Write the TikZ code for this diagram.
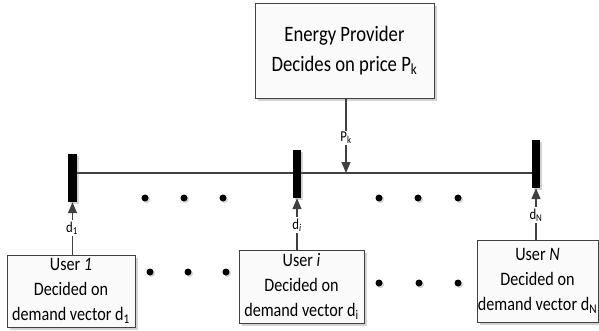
\documentclass[tikz,border=0pt]{standalone}
\usepackage{fontspec}
\setmainfont[FakeStretch=0.85]{Carlito}
\usetikzlibrary{arrows.meta,shadows}
\definecolor{ln}{HTML}{404040}
\begin{document}
\begin{tikzpicture}[x=1pt,y=1pt,
  box/.style={draw=ln,line width=0.9pt,fill=gray!4,align=center,inner sep=0pt,
    drop shadow={shadow xshift=3pt,shadow yshift=-3pt,fill=gray,opacity=0.35}},
  bar/.style={draw=none,fill=black,inner sep=0pt,
    drop shadow={shadow xshift=2pt,shadow yshift=-2pt,fill=gray,opacity=0.35}},
  dotnode/.style={circle,fill=black,inner sep=0pt,minimum width=6pt,minimum height=7pt,
    drop shadow={shadow xshift=1.5pt,shadow yshift=-1.5pt,fill=gray,opacity=0.35}},
  conn/.style={draw=ln,line width=1.2pt},
  arr/.style={conn,-{Triangle[width=9pt,length=11pt]}},
  lab/.style={fill=white,inner sep=1.5pt,font=\fontsize{15}{17}\selectfont}
]
\useasboundingbox (0,0) rectangle (599,330);
% provider
\node[box,minimum width=179pt,minimum height=95pt,font=\fontsize{22}{30}\selectfont] (prov) at (344.5,279.5)
  {Energy Provider\\Decides on price P\textsubscript{k}};
% bus
\coordinate (busL) at (72,157);
\coordinate (busR) at (536,157);
\draw[conn] (busL) -- (busR);
\node[bar,minimum width=9pt,minimum height=48pt] (b1) at (72.5,152) {};
\node[bar,minimum width=8pt,minimum height=48pt] (bi) at (297,156) {};
\node[bar,minimum width=8pt,minimum height=48pt] (bN) at (536,166) {};
% provider to bus
\coordinate (pk) at (346,157);
\draw[arr] (prov.south -| pk) -- (pk);
\node[lab] (pklab) at (346,192) {P\textsubscript{k}};
% dots row 1
\foreach \x [count=\n] in {145,184,223,379,418,458}
  \node[dotnode] (da\n) at (\x,132) {};
% dots row 2
\foreach \x [count=\n] in {150,188,226}
  \node[dotnode] (db\n) at (\x,58) {};
\foreach \x [count=\n] in {379,419,458}
  \node[dotnode] (dc\n) at (\x,47) {};
% users
\node[box,minimum width=128pt,minimum height=72pt,font=\fontsize{19}{25}\selectfont] (u1) at (71,39)
  {User \textit{1}\\Decided on\\demand vector d\textsubscript{1}};
\node[box,minimum width=125pt,minimum height=73pt,font=\fontsize{19}{25}\selectfont] (ui) at (301.5,43.5)
  {User \textit{i}\\Decided on\\demand vector d\textsubscript{i}};
\node[box,minimum width=121pt,minimum height=82pt,font=\fontsize{19}{25}\selectfont] (uN) at (537.5,49)
  {User \textit{N}\\Decided on\\demand vector d\textsubscript{N}};
% arrows up
\draw[arr] (u1.north -| b1) -- (b1.south);
\draw[arr] (ui.north -| bi) -- (bi.south);
\draw[arr] (uN.north -| bN) -- (bN.south);
\node[lab] (l1) at (72,102) {d\textsubscript{1}};
\node[lab] (li) at (297,105) {d\textsubscript{\textit{i}}};
\node[lab] (lN) at (536,115) {d\textsubscript{N}};
\end{tikzpicture}
\end{document}
